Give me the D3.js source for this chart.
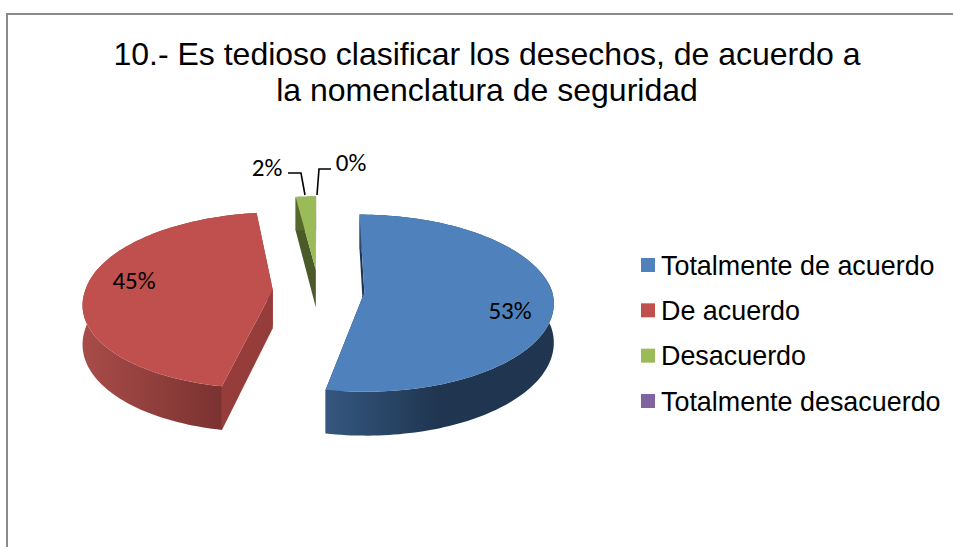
<!DOCTYPE html>
<html><head><meta charset="utf-8">
<style>html,body{margin:0;padding:0;background:#fff}svg{display:block}</style>
<script src="https://cdn.jsdelivr.net/npm/d3@7/dist/d3.min.js"></script>
</head><body><svg id="c" width="953" height="547"></svg>
<script>
const titleLines = ["10.- Es tedioso clasificar los desechos, de acuerdo a", "la nomenclatura de seguridad"];
const categories = ["Totalmente de acuerdo", "De acuerdo", "Desacuerdo", "Totalmente desacuerdo"];
const values = [53, 45, 2, 0];
const colors = ["#4f81bd", "#c0504d", "#9bbb59", "#8064a2"];
const cutColors = ["#1f3552", "#963c3a", "#4a5a28", "#4a3a60"];
const wallStops = [
  [[0, "#1f3550"], [0.5, "#1f3550"], [1, "#35577f"]],
  [[0, "#a84c49"], [1, "#7a3230"]],
  [[0, "#5c7030"], [1, "#4a5a28"]],
  [[0, "#4a3a60"], [1, "#4a3a60"]]
];

const svg = d3.select("#c");
const defs = svg.append("defs");

// Border
svg.append("path").attr("d", "M7,547V14H953").attr("fill", "none").attr("stroke", "#8a8a8a").attr("stroke-width", 2);

// Title
svg.append("g").selectAll("text").data(titleLines).join("text")
  .attr("x", 487).attr("y", (d, i) => 65 + i * 36)
  .attr("text-anchor", "middle").attr("font-family", "Liberation Sans").attr("font-size", 32).attr("fill", "#000")
  .text(d => d);

// 3D projection of the exploded pie
const R = 187.5, TILT = 0.463, PERSP = 0.12, EXPLODE = 0.245, DEPTH = 38.5, SHEAR = 5;
const x0 = 318.6, y0 = 290.5;
function project(X, Y, down) {
  const s = 1 / (1 - PERSP * Y);
  return [x0 + R * X * s - SHEAR * Math.max(Y, 0), y0 + R * TILT * Y * s + (down ? DEPTH * s : 0)];
}
const pie = d3.pie().sort(null).startAngle(0).endAngle(2 * Math.PI);
const arcs = pie(values);
function centre(a) {
  const m = (a.startAngle + a.endAngle) / 2;
  return [Math.sin(m) * EXPLODE, -Math.cos(m) * EXPLODE];
}
function pt(a, th, r, down) {
  const c = centre(a);
  return project(c[0] + Math.sin(th) * r, c[1] - Math.cos(th) * r, down);
}
function rim(a, down) {
  const n = Math.max(2, Math.ceil((a.endAngle - a.startAngle) * 40));
  return d3.range(n + 1).map(i => pt(a, a.startAngle + (a.endAngle - a.startAngle) * i / n, 1, down));
}
const line = d3.line();
const order = [2, 1, 0];
const gPie = svg.append("g");
order.forEach(i => {
  const a = arcs[i];
  if (a.value === 0) return;
  const g = gPie.append("g");
  const top = rim(a, false), bot = rim(a, true);
  const apexT = pt(a, 0, 0, false), apexB = pt(a, 0, 0, true);
  // cut walls
  [[top[0], bot[0]], [top[top.length - 1], bot[bot.length - 1]]].forEach(([t, b]) => {
    g.append("path").attr("d", line([t, apexT, apexB, b]) + "Z").attr("fill", cutColors[i]);
  });
  // outer wall with horizontal gradient
  const cy = project(centre(a)[0], centre(a)[1])[1];
  const xs = top.filter(p => p[1] > cy - 5).map(p => p[0]);
  const id = "wall" + i;
  const gr = defs.append("linearGradient").attr("id", id).attr("gradientUnits", "userSpaceOnUse")
    .attr("x1", i === 0 ? d3.max(xs) : d3.min(xs)).attr("x2", i === 0 ? d3.min(xs) : d3.max(xs)).attr("y1", 0).attr("y2", 0);
  wallStops[i].forEach(s => gr.append("stop").attr("offset", s[0]).attr("stop-color", s[1]));
  g.append("path").attr("d", line(top.concat(bot.slice().reverse())) + "Z").attr("fill", `url(#${id})`);
  // top face
  g.append("path").attr("d", line([apexT].concat(top)) + "Z").attr("fill", colors[i]);
});

// Data labels
const labelPos = [[510, 310], [134, 280], [267, 167], [351, 162]];
svg.append("g").selectAll("text").data(values).join("text")
  .attr("x", (d, i) => labelPos[i][0]).attr("y", (d, i) => labelPos[i][1])
  .attr("text-anchor", "middle").attr("dominant-baseline", "central")
  .attr("font-family", "Carlito, Lato").attr("font-size", 25).attr("fill", "#000")
  .text(d => d + "%");

// Leader lines
const leaders = [[[288, 173], [301, 173], [305, 195]], [[317, 195], [319, 169], [331, 169]]];
svg.append("g").selectAll("path").data(leaders).join("path")
  .attr("d", d => line(d)).attr("fill", "none").attr("stroke", "#000").attr("stroke-width", 1.6);

// Legend
const legendY = d3.scalePoint().domain(categories).range([265, 401]);
const leg = svg.append("g").selectAll("g").data(categories).join("g")
  .attr("transform", d => `translate(0,${legendY(d)})`);
leg.append("rect").attr("x", 641).attr("y", -7).attr("width", 14).attr("height", 14)
  .attr("fill", (d, i) => colors[i]);
leg.append("text").attr("x", 661).attr("y", 9.5).attr("font-family", "Liberation Sans").attr("font-size", 26.9)
  .attr("fill", "#000").text(d => d);
</script></body></html>
